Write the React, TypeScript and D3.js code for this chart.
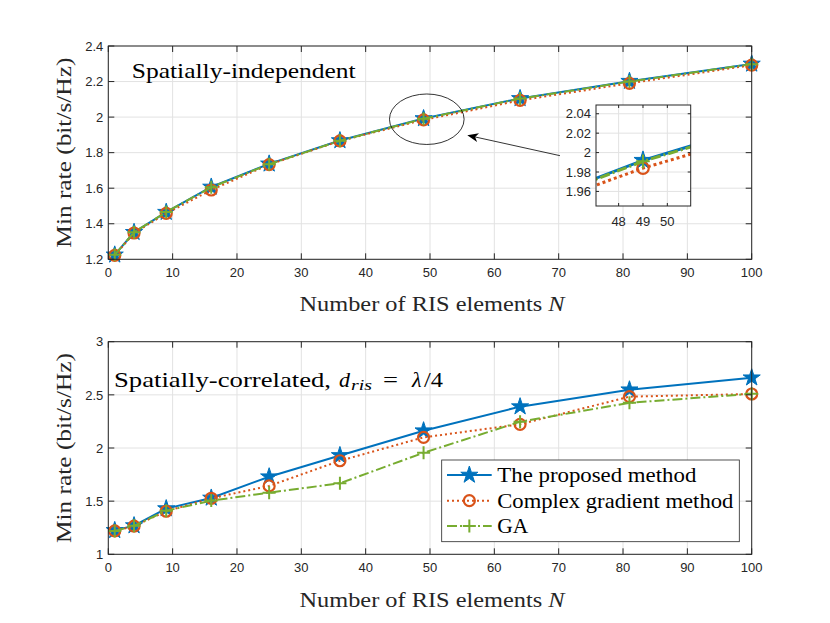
import * as d3 from "d3";
import React from "react";

// number of RIS elements on the x axis
const nElements = [1, 4, 9, 16, 25, 36, 49, 64, 81, 100];

// spatially-independent channel
const indepProposed = [1.225, 1.352, 1.465, 1.607, 1.737, 1.868, 1.992, 2.105, 2.202, 2.299];
const indepComplex = [1.222, 1.348, 1.458, 1.59, 1.733, 1.866, 1.984, 2.094, 2.19, 2.292];
const indepGA = [1.225, 1.352, 1.466, 1.605, 1.735, 1.867, 1.991, 2.104, 2.2, 2.298];

// spatially-correlated channel
const corrProposed = [1.225, 1.27, 1.43, 1.53, 1.73, 1.93, 2.163, 2.389, 2.548, 2.661];
const corrComplex = [1.22, 1.265, 1.405, 1.527, 1.643, 1.88, 2.1, 2.223, 2.483, 2.508];
const corrGA = [1.22, 1.268, 1.41, 1.505, 1.58, 1.668, 1.955, 2.247, 2.425, 2.51];

const xTicks = [0, 10, 20, 30, 40, 50, 60, 70, 80, 90, 100];
const topYTicks = [1.2, 1.4, 1.6, 1.8, 2, 2.2, 2.4];
const bottomYTicks = [1, 1.5, 2, 2.5, 3];
const insetXTicks = [48, 49, 50];
const insetYTicks = [1.96, 1.98, 2, 2.02, 2.04];
const legendNames = ["The proposed method", "Complex gradient method", "GA"];

const W = 830;
const H = 623;
const BLUE = "#0072BD";
const ORANGE = "#D95319";
const GREEN = "#77AC30";
const AXIS = "#262626";
const GRID = "#e2e2e2";
const TICK_FONT = "'Liberation Sans', Arial, sans-serif";
const SERIF = "'Liberation Serif', 'Times New Roman', serif";

const plotLeft = 108.3;
const plotRight = 751.7;
const topBox = { top: 46, bottom: 259.3 };
const botBox = { top: 341.7, bottom: 554.3 };
const insetBox = { left: 596, right: 690.7, top: 105, bottom: 206 };

type Style = { color: string; dash: string | null; marker: "star" | "circle" | "plus" };
const styles: Style[] = [
    { color: BLUE, dash: null, marker: "star" },
    { color: ORANGE, dash: "2 3", marker: "circle" },
    { color: GREEN, dash: "10 3 2 3", marker: "plus" },
];

function starPath(R: number) {
    const r = R * 0.382;
    const pts: string[] = [];
    for (let i = 0; i < 10; i++) {
        const a = -Math.PI / 2 + (i * Math.PI) / 5;
        const rr = i % 2 === 0 ? R : r;
        pts.push(`${(rr * Math.cos(a)).toFixed(2)},${(rr * Math.sin(a)).toFixed(2)}`);
    }
    return "M" + pts.join("L") + "Z";
}

function Marker({ type, x, y, color, scale = 1 }: { type: string; x: number; y: number; color: string; scale?: number }) {
    if (type === "star") {
        return <path d={starPath(9 * scale)} transform={`translate(${x},${y})`} fill={color} stroke={color} strokeWidth={1} strokeLinejoin="miter" />;
    }
    if (type === "circle") {
        return <circle cx={x} cy={y} r={5.5 * scale} fill="none" stroke={color} strokeWidth={2.2} />;
    }
    const h = 6.5 * scale;
    return (
        <path d={`M${x - h},${y}H${x + h}M${x},${y - h}V${y + h}`} stroke={color} strokeWidth={2} fill="none" />
    );
}

// grid lines only
function Grid({ x, y, xTickVals, yTickVals, left, right, top, bottom }: any) {
    return (
        <g>
            {xTickVals.map((t: number) => (
                <line key={"gx" + t} x1={x(t)} x2={x(t)} y1={top} y2={bottom} stroke={GRID} strokeWidth={1} />
            ))}
            {yTickVals.map((t: number) => (
                <line key={"gy" + t} x1={left} x2={right} y1={y(t)} y2={y(t)} stroke={GRID} strokeWidth={1} />
            ))}
        </g>
    );
}

// axes box, inward ticks on all four sides, tick labels
function Box({ x, y, xTickVals, yTickVals, left, right, top, bottom, tickLen, xFmt, yFmt, xLabelDy }: any) {
    return (
        <g>
            <rect x={left} y={top} width={right - left} height={bottom - top} fill="none" stroke={AXIS} strokeWidth={1} />
            {xTickVals.map((t: number) => (
                <g key={"tx" + t}>
                    <line x1={x(t)} x2={x(t)} y1={bottom} y2={bottom - tickLen} stroke={AXIS} />
                    <line x1={x(t)} x2={x(t)} y1={top} y2={top + tickLen} stroke={AXIS} />
                    <text x={x(t)} y={bottom + xLabelDy} textAnchor="middle" fontFamily={TICK_FONT} fontSize={13} fill={AXIS}>
                        {xFmt(t)}
                    </text>
                </g>
            ))}
            {yTickVals.map((t: number) => (
                <g key={"ty" + t}>
                    <line x1={left} x2={left + tickLen} y1={y(t)} y2={y(t)} stroke={AXIS} />
                    <line x1={right} x2={right - tickLen} y1={y(t)} y2={y(t)} stroke={AXIS} />
                    <text x={left - 5} y={y(t)} dy="0.36em" textAnchor="end" fontFamily={TICK_FONT} fontSize={13} fill={AXIS}>
                        {yFmt(t)}
                    </text>
                </g>
            ))}
        </g>
    );
}

function Series({ x, y, values, style, width = 2, markerScale = 1, clip }: any) {
    const line = d3
        .line<number>()
        .x((_, i) => x(nElements[i]))
        .y((d) => y(d));
    return (
        <g>
            <path d={line(values) || ""} fill="none" stroke={style.color} strokeWidth={width} strokeDasharray={style.dash || undefined} clipPath={clip} />
            <g clipPath={clip}>
                {values.map((v: number, i: number) => (
                    <Marker key={i} type={style.marker} x={x(nElements[i])} y={y(v)} color={style.color} scale={markerScale} />
                ))}
            </g>
        </g>
    );
}

function XLabel({ cx, y }: { cx: number; y: number }) {
    return (
        <text x={cx} y={y} textAnchor="middle" fontFamily={SERIF} fontSize={22} fill={AXIS} textLength={265} lengthAdjust="spacingAndGlyphs">
            Number of RIS elements <tspan fontStyle="italic">N</tspan>
        </text>
    );
}

function YLabel({ cx, cy }: { cx: number; cy: number }) {
    return (
        <text transform={`translate(${cx},${cy}) rotate(-90)`} textAnchor="middle" fontFamily={SERIF} fontSize={22} fill={AXIS} textLength={190} lengthAdjust="spacingAndGlyphs">
            Min rate (bit/s/Hz)
        </text>
    );
}

export default function App() {
    const x = d3.scaleLinear().domain([0, 100]).range([plotLeft, plotRight]);
    const yTop = d3.scaleLinear().domain([1.2, 2.4]).range([topBox.bottom, topBox.top]);
    const yBot = d3.scaleLinear().domain([1, 3]).range([botBox.bottom, botBox.top]);
    const xIn = d3.scaleLinear().domain([47.07, 50.96]).range([insetBox.left, insetBox.right]);
    const yIn = d3.scaleLinear().domain([1.945, 2.049]).range([insetBox.bottom, insetBox.top]);

    const indep = [indepProposed, indepComplex, indepGA];
    const corr = [corrProposed, corrComplex, corrGA];

    const fmt = (t: number) => String(+t.toFixed(2));

    // zoom ellipse and arrow (data coordinates of the upper panel)
    const ell = { cx: 49.5, cy: 1.988, rx: 5.8, ry: 0.142 };
    const arrowFrom = [70.2, 1.783];
    const arrowTo = [55.8, 1.898];
    const ax0 = x(arrowFrom[0]), ay0 = yTop(arrowFrom[1]);
    const ax1 = x(arrowTo[0]), ay1 = yTop(arrowTo[1]);
    const ang = Math.atan2(ay1 - ay0, ax1 - ax0);
    const hl = 11, hw = 4.5, back = 3;
    const ux = Math.cos(ang), uy = Math.sin(ang);
    const head = [
        [ax1, ay1],
        [ax1 - hl * ux - hw * uy, ay1 - hl * uy + hw * ux],
        [ax1 - (hl - back) * ux, ay1 - (hl - back) * uy],
        [ax1 - hl * ux + hw * uy, ay1 - hl * uy - hw * ux],
    ];

    const legend = { left: 441.7, top: 460, right: 739.3, bottom: 541.7 };
    const legendRows = [475, 500.7, 526];

    return (
        <svg width={W} height={H} style={{ position: "absolute", left: 0, top: 0, background: "#fff" }}>
            <defs>
                <clipPath id="insetClip">
                    <rect x={insetBox.left} y={insetBox.top} width={insetBox.right - insetBox.left} height={insetBox.bottom - insetBox.top} />
                </clipPath>
            </defs>
            <rect x={0} y={0} width={W} height={H} fill="#fff" />

            {/* upper panel */}
            <Grid x={x} y={yTop} xTickVals={xTicks} yTickVals={topYTicks} left={plotLeft} right={plotRight} top={topBox.top} bottom={topBox.bottom} />
            {indep.map((v, i) => (
                <Series key={i} x={x} y={yTop} values={v} style={styles[i]} />
            ))}
            <Box x={x} y={yTop} xTickVals={xTicks} yTickVals={topYTicks} left={plotLeft} right={plotRight} top={topBox.top} bottom={topBox.bottom} tickLen={6} xFmt={fmt} yFmt={fmt} xLabelDy={18} />
            <text x={131.7} y={78} fontFamily={SERIF} fontSize={22} fill="#000" textLength={224} lengthAdjust="spacingAndGlyphs">
                Spatially-independent
            </text>
            <ellipse cx={x(ell.cx)} cy={yTop(ell.cy)} rx={x(ell.cx + ell.rx) - x(ell.cx)} ry={yTop(ell.cy - ell.ry) - yTop(ell.cy)} fill="none" stroke="#000" strokeWidth={0.8} />
            <line x1={ax0} y1={ay0} x2={ax1 - (hl - back) * ux} y2={ay1 - (hl - back) * uy} stroke="#000" strokeWidth={0.8} />
            <path d={"M" + head.map((p) => p.join(",")).join("L") + "Z"} fill="#000" />

            {/* inset */}
            <rect x={insetBox.left} y={insetBox.top} width={insetBox.right - insetBox.left} height={insetBox.bottom - insetBox.top} fill="#fff" />
            <Grid x={xIn} y={yIn} xTickVals={insetXTicks} yTickVals={insetYTicks} left={insetBox.left} right={insetBox.right} top={insetBox.top} bottom={insetBox.bottom} />
            {indep.map((v, i) => (
                <Series key={i} x={xIn} y={yIn} values={v} style={{ ...styles[i], dash: i === 1 ? "3 3" : styles[i].dash }} width={3} markerScale={1.05} clip="url(#insetClip)" />
            ))}
            <Box x={xIn} y={yIn} xTickVals={insetXTicks} yTickVals={insetYTicks} left={insetBox.left} right={insetBox.right} top={insetBox.top} bottom={insetBox.bottom} tickLen={3} xFmt={fmt} yFmt={fmt} xLabelDy={20} />

            <XLabel cx={432} y={311} />
            <YLabel cx={71} cy={(topBox.top + topBox.bottom) / 2} />

            {/* lower panel */}
            <Grid x={x} y={yBot} xTickVals={xTicks} yTickVals={bottomYTicks} left={plotLeft} right={plotRight} top={botBox.top} bottom={botBox.bottom} />
            {corr.map((v, i) => (
                <Series key={i} x={x} y={yBot} values={v} style={styles[i]} />
            ))}
            <Box x={x} y={yBot} xTickVals={xTicks} yTickVals={bottomYTicks} left={plotLeft} right={plotRight} top={botBox.top} bottom={botBox.bottom} tickLen={6} xFmt={fmt} yFmt={fmt} xLabelDy={18} />
            <text y={386.7} fontFamily={SERIF} fontSize={22} fill="#000">
                <tspan x={114} textLength={217} lengthAdjust="spacingAndGlyphs">Spatially-correlated,</tspan>
                <tspan x={339} fontStyle="italic">d</tspan>
                <tspan x={351} fontStyle="italic" fontSize={15} dy={3} textLength={21} lengthAdjust="spacingAndGlyphs">ris</tspan>
                <tspan x={383} dy={-3} textLength={15} lengthAdjust="spacingAndGlyphs">=</tspan>
                <tspan x={412} fontStyle="italic">λ</tspan>
                <tspan x={424} textLength={19} lengthAdjust="spacingAndGlyphs">/4</tspan>
            </text>

            {/* legend */}
            <rect x={legend.left} y={legend.top} width={legend.right - legend.left} height={legend.bottom - legend.top} fill="#fff" stroke={AXIS} strokeWidth={0.8} />
            {legendNames.map((name, i) => {
                const yy = legendRows[i];
                const st = styles[i];
                const x0 = 447, x1 = 491.7;
                return (
                    <g key={name}>
                        <line x1={x0} x2={x1} y1={yy} y2={yy} stroke={st.color} strokeWidth={2} strokeDasharray={st.dash || undefined} />
                        <Marker type={st.marker} x={(x0 + x1) / 2} y={yy} color={st.color} />
                        <text x={497.3} y={yy} dy="0.33em" fontFamily={SERIF} fontSize={21} fill="#000" textLength={[199, 236, 31][i]} lengthAdjust="spacingAndGlyphs">
                            {name}
                        </text>
                    </g>
                );
            })}

            <XLabel cx={432} y={607} />
            <YLabel cx={71} cy={(botBox.top + botBox.bottom) / 2} />
        </svg>
    );
}
